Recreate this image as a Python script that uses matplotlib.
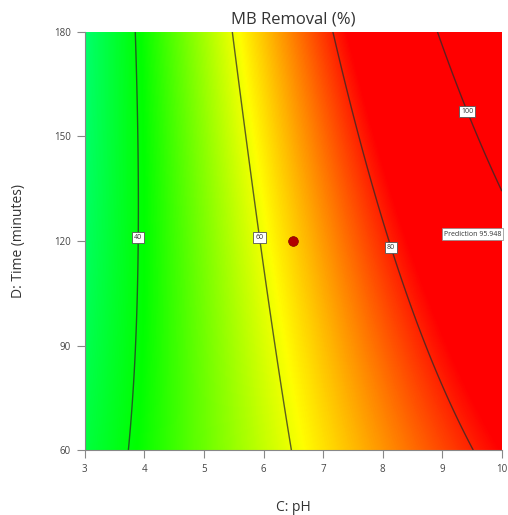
import numpy as np
import matplotlib
matplotlib.use("Agg")
import matplotlib.pyplot as plt
from matplotlib.colors import LinearSegmentedColormap, Normalize

# -----------------------
# Data
# -----------------------
ph_range = [3, 10]
time_range = [60, 180]
ph_ticks = [3, 4, 5, 6, 7, 8, 9, 10]
time_ticks = [60, 90, 120, 150, 180]

# quadratic model in coded units: X = (pH-6.5)/3.5, T = (t-120)/60
# terms: const, X, T, X*T, X^2, T^2
model_terms = ["1", "X", "T", "XT", "X2", "T2"]
model_coefs = [65.29, 32.8, 6.0, 8.5, -1.6, 0.94]

contour_levels = [40, 60, 80, 100]
label_ph = [3.9, 5.94, 8.12, 9.38]
label_time = [121, 121, 118, 157]

design_point = (6.5, 120)
prediction_text = "Prediction 95.948"
prediction_pos = (9.99, 122)

# colour scale anchors (response value -> colour)
color_values = [14, 41, 61.5, 83]
color_list = ["#00ffff", "#00ff00", "#ffff00", "#ff0000"]

# -----------------------
# Surface
# -----------------------
ph = np.linspace(ph_range[0], ph_range[1], 400)
tm = np.linspace(time_range[0], time_range[1], 400)
PH, TM = np.meshgrid(ph, tm)
X = (PH - 6.5) / 3.5
T = (TM - 120) / 60
c = dict(zip(model_terms, model_coefs))
Z = c["1"] + c["X"] * X + c["T"] * T + c["XT"] * X * T + c["X2"] * X**2 + c["T2"] * T**2

vmin, vmax = color_values[0], color_values[-1]
stops = [(v - vmin) / (vmax - vmin) for v in color_values]
cmap = LinearSegmentedColormap.from_list("dx", list(zip(stops, color_list)))

# -----------------------
# Plot
# -----------------------
plt.rcParams["font.family"] = ["Open Sans", "DejaVu Sans"]

fig = plt.figure(figsize=(5.08, 5.15), dpi=100)
ax = fig.add_axes([0.167, 0.126, 0.821, 0.812])

ax.pcolormesh(PH, TM, Z, cmap=cmap, norm=Normalize(vmin, vmax, clip=True),
              shading="gouraud", rasterized=True)

cs = ax.contour(PH, TM, Z, levels=contour_levels, colors="#2a2a2a",
                linewidths=1.0, alpha=0.75)
labels = ax.clabel(cs, fmt="%d", fontsize=5, inline=False,
                   manual=list(zip(label_ph, label_time)))
for t in labels:
    t.set_rotation(0)
    t.set_color("#333333")
    t.set_bbox(dict(boxstyle="square,pad=0.3", fc="white", ec="#555555", lw=0.6))

ax.plot(*design_point, "o", color="#b00000", markersize=7,
        markeredgecolor="#800000", markeredgewidth=0.5)

ax.text(prediction_pos[0], prediction_pos[1], prediction_text, fontsize=5,
        ha="right", va="center", color="#333333",
        bbox=dict(boxstyle="square,pad=0.3", fc="white", ec="#888888", lw=0.5))

ax.set_xlim(ph_range)
ax.set_ylim(time_range)
ax.set_xticks(ph_ticks)
ax.set_yticks(time_ticks)
ax.tick_params(direction="out", length=6, width=0.8, color="#888888",
               labelsize=7, labelcolor="#444444", pad=4)
for side in ["top", "right"]:
    ax.spines[side].set_visible(False)
for side in ["left", "bottom"]:
    ax.spines[side].set_color("#888888")
    ax.spines[side].set_linewidth(0.8)

ax.set_xlabel("C: pH", fontsize=10, color="#333333", labelpad=18)
ax.set_ylabel("D: Time (minutes)", fontsize=10, color="#333333", labelpad=20)
ax.set_title("MB Removal (%)", fontsize=12, color="#333333", pad=6)

fig.savefig("out.png", dpi=100)
